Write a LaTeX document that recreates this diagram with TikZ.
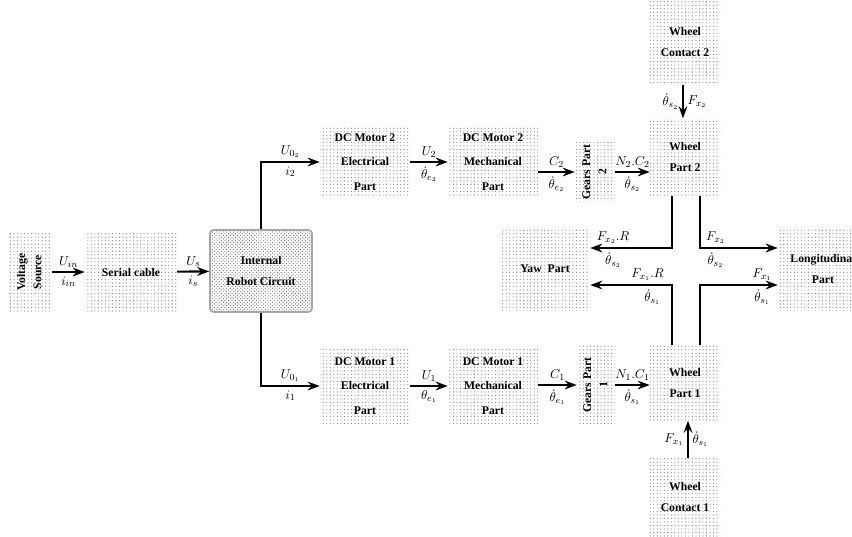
\documentclass[tikz,border=0pt]{standalone}
\usepackage{fontspec}
\setmainfont{Liberation Serif}
\usepackage{graphicx}
\usetikzlibrary{arrows.meta, patterns}

\newcommand{\sidetext}[1]{\rotatebox{90}{\fontsize{10}{14}\selectfont\begin{tabular}{@{}c@{}}#1\end{tabular}}}

\begin{document}
\begin{tikzpicture}[
  x=0.03cm, y=-0.03cm,
  font=\bfseries\fontsize{10}{18}\selectfont,
  part/.style={pattern=dots, pattern color=black!50, align=center, inner sep=2pt},
  motor/.style={part, minimum width=2.7cm, font=\bfseries\fontsize{10}{21}\selectfont},
  circuit/.style={part, pattern=crosshatch dots, pattern color=black!60, draw=black!35, line width=1.3pt, rounded corners=3pt},
  flow/.style={-{Stealth[length=3.6mm, width=2.6mm]}, line width=1.8pt},
  lbl/.style={font=\normalfont\fontsize{11}{13}\selectfont, inner sep=3pt},
]
  \useasboundingbox (0,0) rectangle (852,536);

  % source side
  \node[part, minimum width=1.32cm, minimum height=2.4cm] (vs) at (30,272) {\sidetext{Voltage\\Source}};
  \node[part, minimum width=2.76cm, minimum height=2.4cm] (sc) at (131,272) {Serial cable};
  \node[circuit, minimum width=3.06cm, minimum height=2.46cm] (irc) at (261,271) {Internal\\Robot Circuit};

  % motor 2 branch
  \node[motor, minimum height=2.1cm] (m2e) at (365,162) {DC Motor 2\\Electrical\\Part};
  \node[motor, minimum height=2.1cm] (m2m) at (493,162) {DC Motor 2\\Mechanical\\Part};
  \node[part, minimum width=1.2cm, minimum height=1.65cm] (g2) at (595,172) {\sidetext{Gears Part\\2}};
  \node[part, minimum width=2.1cm, minimum height=2.31cm] (w2) at (685,157) {Wheel\\Part 2};
  \node[part, minimum width=2.1cm, minimum height=2.55cm] (wc2) at (685,42) {Wheel\\Contact 2};

  % motor 1 branch
  \node[motor, minimum height=2.25cm] (m1e) at (365,386) {DC Motor 1\\Electrical\\Part};
  \node[motor, minimum height=2.25cm] (m1m) at (493,386) {DC Motor 1\\Mechanical\\Part};
  \node[part, minimum width=1.14cm, minimum height=2.4cm] (g1) at (596,385) {\sidetext{Gears Part\\1}};
  \node[part, minimum width=2.1cm, minimum height=2.25cm] (w1) at (685,383) {Wheel\\Part 1};
  \node[part, minimum width=2.1cm, minimum height=2.34cm] (wc1) at (685,497) {Wheel\\Contact 1};

  % outputs
  \node[part, minimum width=2.7cm, minimum height=2.46cm] (yaw) at (545,269) {Yaw~~Part};
  \node[part, minimum width=2.7cm, minimum height=2.46cm] (lon) at (823,269) {Longitudinal\\Part};

  % connectors
  \draw[flow] (vs) -- node[lbl, above] {$U_{in}$} node[lbl, below] {$i_{in}$} (sc);
  \draw[flow] (sc) -- node[lbl, above] {$U_{s}$} node[lbl, below] {$i_{s}$} (irc);
  \draw[flow] (irc.north) |- node[lbl, above, pos=0.75] {$U_{0_2}$} node[lbl, below, pos=0.75] {$i_2$} (m2e.west);
  \draw[flow] (irc.south) |- node[lbl, above, pos=0.75] {$U_{0_1}$} node[lbl, below, pos=0.75] {$i_1$} (m1e.west);
  \draw[flow] (m2e) -- node[lbl, above] {$U_2$} node[lbl, below] {$\dot{\theta}_{e_2}$} (m2m);
  \draw[flow] (m1e) -- node[lbl, above] {$U_1$} node[lbl, below] {$\theta_{e_1}$} (m1m);
  \draw[flow] (m2m.east |- g2.east) -- node[lbl, above] {$C_2$} node[lbl, below] {$\dot{\theta}_{e_2}$} (g2.west);
  \draw[flow] (m1m.east |- g1.east) -- node[lbl, above] {$C_1$} node[lbl, below] {$\dot{\theta}_{e_1}$} (g1.west);
  \draw[flow] (g2.east) -- node[lbl, above] {$N_2.C_2$} node[lbl, below] {$\dot{\theta}_{s_2}$} (g2.east -| w2.west);
  \draw[flow] (g1.east) -- node[lbl, above] {$N_1.C_1$} node[lbl, below] {$\dot{\theta}_{s_1}$} (g1.east -| w1.west);
  \draw[flow] ([xshift=-0.06cm]wc2.south) -- node[lbl, left] {$\dot{\theta}_{s_2}$} node[lbl, right] {$F_{x_2}$} ([xshift=-0.06cm]w2.north);
  \draw[flow] ([xshift=0.09cm]wc1.north) -- node[lbl, left] {$F_{x_1}$} node[lbl, right] {$\dot{\theta}_{s_1}$} ([xshift=0.09cm]w1.south);

  % wheel outputs
  \draw[flow] ([xshift=-0.39cm]w2.south) |- node[lbl, above, pos=0.86] {$F_{x_2}.R$} node[lbl, below, pos=0.86] {$\dot{\theta}_{s_2}$} ([yshift=0.63cm]yaw.east);
  \draw[flow] ([xshift=-0.39cm]w1.north) |- node[lbl, above, pos=0.65] {$F_{x_1}.R$} node[lbl, below, pos=0.62] {$\dot{\theta}_{s_1}$} ([yshift=-0.48cm]yaw.east);
  \draw[flow] ([xshift=0.45cm]w2.south) |- node[lbl, above, pos=0.6] {$F_{x_2}$} node[lbl, below, pos=0.6] {$\dot{\theta}_{s_2}$} ([yshift=0.63cm]lon.west);
  \draw[flow] ([xshift=0.45cm]w1.north) |- node[lbl, above, pos=0.9] {$F_{x_1}$} node[lbl, below, pos=0.9] {$\dot{\theta}_{s_1}$} ([yshift=-0.48cm]lon.west);
\end{tikzpicture}
\end{document}
